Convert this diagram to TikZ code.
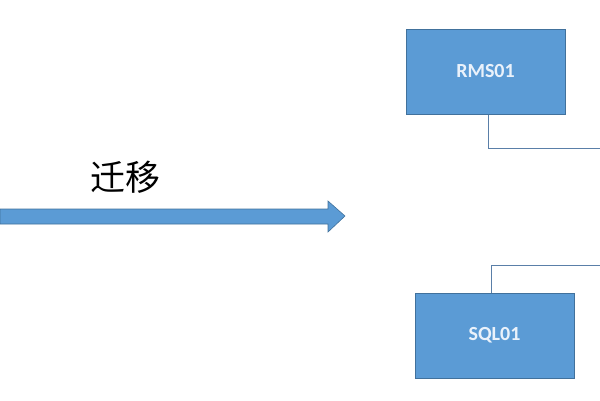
\documentclass[tikz,border=0pt]{standalone}
\usepackage{fontspec}
\setmainfont{Carlito}
\newfontfamily\cjk{Noto Sans CJK SC}
\usepackage{xcolor}
\usepackage{tikz}
\usetikzlibrary{positioning}
\definecolor{boxblue}{HTML}{5B9BD5}
\definecolor{boxedge}{HTML}{41719C}
\definecolor{linkgray}{HTML}{5A7FA8}
\definecolor{labelfg}{HTML}{EAF2FB}

\begin{document}
\begin{tikzpicture}[
    x=1pt, y=-1pt,
    server/.style={
        draw=boxedge,
        line width=1pt,
        fill=boxblue,
        align=center,
        minimum width=159pt,
        minimum height=85pt,
        text=labelfg,
        font=\fontsize{20}{24}\selectfont\bfseries
    },
    link/.style={draw=linkgray, line width=0.8pt},
    bigarrow/.style={fill=boxblue, draw=boxedge, line width=0.6pt}
]
\useasboundingbox (0,0) rectangle (600,400);

\node[server] (rms) at (485.5,71.5) {RMS01};
\node[server] (sql) at (494.5,335.5) {SQL01};

\coordinate (rmsout) at (600,148);
\coordinate (sqlout) at (600,265);

\draw[link] ([xshift=2.5pt]rms.south) |- (rmsout);
\draw[link] ([xshift=-3.5pt]sql.north) |- (sqlout);

% migration arrow
\coordinate (tail) at (0,216);
\coordinate (tip) at (345,216);
\filldraw[bigarrow] (0,209) -- (328,209) -- (328,201) -- (tip)
    -- (328,232) -- (328,224) -- (0,224) -- cycle;
\node[font=\cjk\fontsize{35}{40}\selectfont] (move) at (125,177) {迁移};

\end{tikzpicture}
\end{document}
